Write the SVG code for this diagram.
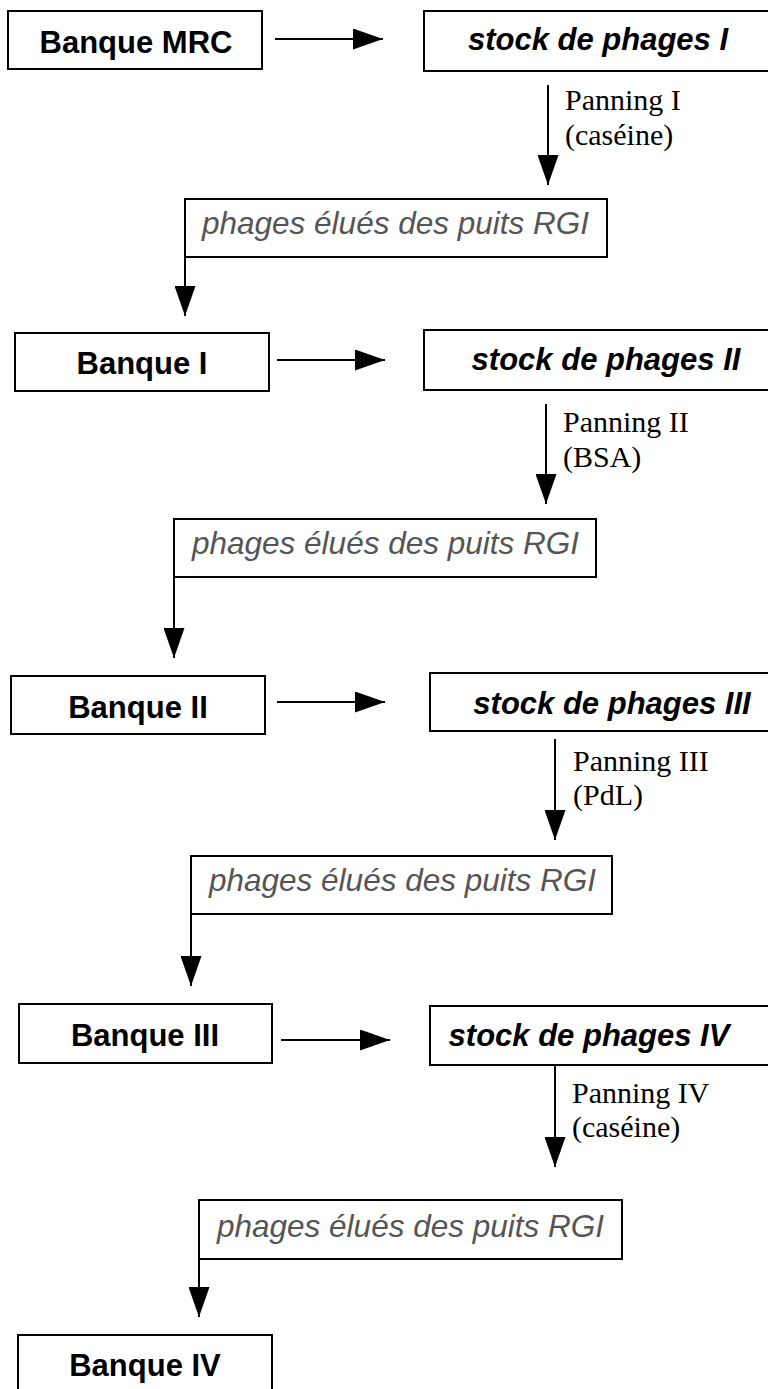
<svg xmlns="http://www.w3.org/2000/svg" width="768" height="1389" viewBox="0 0 768 1389">
  <style>
    .box { fill: #fff; stroke: #000; stroke-width: 2; }
    .bank { font-family: "Liberation Sans", Arial, sans-serif; font-weight: bold; font-size: 31px; fill: #000; text-anchor: middle; }
    .stock { font-family: "Liberation Sans", Arial, sans-serif; font-weight: bold; font-style: italic; font-size: 31px; fill: #000; text-anchor: middle; }
    .eluted { font-family: "Liberation Sans", Arial, sans-serif; font-style: italic; font-size: 31.5px; fill: #555; }
    .pan { font-family: "Liberation Serif", "Times New Roman", serif; font-size: 30px; fill: #000; }
    .link { stroke: #000; stroke-width: 2; fill: none; marker-end: url(#head); }
  </style>
  <defs>
    <marker id="head" markerUnits="userSpaceOnUse" markerWidth="30" markerHeight="21" refX="30" refY="10.5" orient="auto">
      <path d="M0,0 L30,10.5 L0,21 Z" fill="#000"/>
    </marker>
  </defs>
  <rect width="768" height="1389" fill="#fff"/>

  <!-- connectors -->
  <g id="connectors">
    <line class="link" x1="275" y1="39" x2="383" y2="39"/>
    <line class="link" x1="548" y1="85" x2="548" y2="185"/>
    <line class="link" x1="185" y1="257" x2="185" y2="316"/>

    <line class="link" x1="277" y1="360" x2="385" y2="360"/>
    <line class="link" x1="546" y1="404" x2="546" y2="504"/>
    <line class="link" x1="174" y1="577" x2="174" y2="658"/>

    <line class="link" x1="277" y1="702" x2="385" y2="702"/>
    <line class="link" x1="555" y1="739" x2="555" y2="840"/>
    <line class="link" x1="191" y1="914" x2="191" y2="986"/>

    <line class="link" x1="281" y1="1040" x2="390" y2="1040"/>
    <line class="link" x1="555" y1="1065" x2="555" y2="1167"/>
    <line class="link" x1="199" y1="1259" x2="199" y2="1317"/>
  </g>

  <!-- step labels on the panning arrows -->
  <g id="panning-labels" class="pan">
    <text x="565" y="110">Panning I</text>
    <text x="565" y="145">(caséine)</text>
    <text x="563" y="432">Panning II</text>
    <text x="563" y="467">(BSA)</text>
    <text x="573" y="771">Panning III</text>
    <text x="573" y="805">(PdL)</text>
    <text x="572" y="1103">Panning IV</text>
    <text x="572" y="1137">(caséine)</text>
  </g>

  <!-- round 1 -->
  <g id="banque-mrc">
    <rect class="box" x="8" y="11" width="254" height="58"/>
    <text class="bank" x="136" y="53">Banque MRC</text>
  </g>
  <g id="stock-1">
    <rect class="box" x="424" y="11" width="350" height="60"/>
    <text class="stock" x="598" y="50">stock de phages I</text>
  </g>
  <g id="elues-1">
    <rect class="box" x="185" y="199" width="422" height="58"/>
    <text class="eluted" x="202" y="234">phages élués des puits RGI</text>
  </g>

  <!-- round 2 -->
  <g id="banque-1">
    <rect class="box" x="15" y="333" width="254" height="58"/>
    <text class="bank" x="142" y="374">Banque I</text>
  </g>
  <g id="stock-2">
    <rect class="box" x="424" y="330" width="350" height="60"/>
    <text class="stock" x="606" y="370">stock de phages II</text>
  </g>
  <g id="elues-2">
    <rect class="box" x="174" y="519" width="422" height="58"/>
    <text class="eluted" x="192" y="554">phages élués des puits RGI</text>
  </g>

  <!-- round 3 -->
  <g id="banque-2">
    <rect class="box" x="11" y="676" width="254" height="58"/>
    <text class="bank" x="138" y="718">Banque II</text>
  </g>
  <g id="stock-3">
    <rect class="box" x="430" y="673" width="344" height="58"/>
    <text class="stock" x="612" y="714">stock de phages III</text>
  </g>
  <g id="elues-3">
    <rect class="box" x="191" y="856" width="421" height="58"/>
    <text class="eluted" x="209" y="891">phages élués des puits RGI</text>
  </g>

  <!-- round 4 -->
  <g id="banque-3">
    <rect class="box" x="19" y="1004" width="253" height="59"/>
    <text class="bank" x="145" y="1046">Banque III</text>
  </g>
  <g id="stock-4">
    <rect class="box" x="430" y="1006" width="344" height="59"/>
    <text class="stock" x="589" y="1046">stock de phages IV</text>
  </g>
  <g id="elues-4">
    <rect class="box" x="199" y="1200" width="423" height="59"/>
    <text class="eluted" x="217" y="1237">phages élués des puits RGI</text>
  </g>

  <!-- final library -->
  <g id="banque-4">
    <rect class="box" x="18" y="1335" width="254" height="60"/>
    <text class="bank" x="145" y="1376">Banque IV</text>
  </g>
</svg>
